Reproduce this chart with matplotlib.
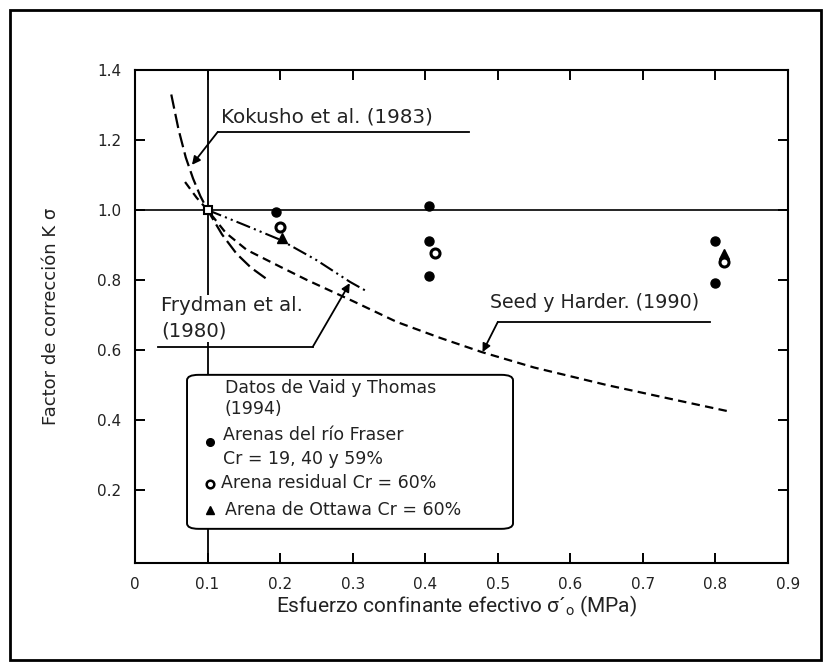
import matplotlib
matplotlib.use("Agg")
import matplotlib.pyplot as plt
from matplotlib.patches import FancyBboxPatch, Rectangle
import numpy as np

# ---------------- data ----------------
kokusho_x = [0.05, 0.06, 0.07, 0.08, 0.09, 0.10, 0.12, 0.14, 0.16, 0.18]
kokusho_y = [1.33, 1.23, 1.15, 1.09, 1.04, 1.00, 0.93, 0.875, 0.835, 0.805]

seed_x = [0.069, 0.085, 0.10, 0.125, 0.154, 0.20, 0.237, 0.30, 0.361, 0.42, 0.478, 0.55, 0.65, 0.75, 0.822]
seed_y = [1.08, 1.035, 1.00, 0.935, 0.886, 0.838, 0.80, 0.74, 0.68, 0.635, 0.594, 0.55, 0.50, 0.455, 0.423]

frydman_x = [0.10, 0.15, 0.20, 0.25, 0.296, 0.32]
frydman_y = [1.00, 0.958, 0.915, 0.857, 0.795, 0.767]

fraser_x = [0.195, 0.405, 0.405, 0.405, 0.80, 0.80]
fraser_y = [0.995, 1.01, 0.91, 0.812, 0.91, 0.79]

residual_x = [0.20, 0.413, 0.812]
residual_y = [0.95, 0.877, 0.85]

ottawa_x = [0.203, 0.812]
ottawa_y = [0.92, 0.875]

ref_x = [0.10]
ref_y = [1.00]

xticks = [0, 0.1, 0.2, 0.3, 0.4, 0.5, 0.6, 0.7, 0.8, 0.9]
xtick_labels = ["0", "0.1", "0.2", "0.3", "0.4", "0.5", "0.6", "0.7", "0.8", "0.9"]
yticks = [0.2, 0.4, 0.6, 0.8, 1.0, 1.2, 1.4]
ytick_labels = ["0.2", "0.4", "0.6", "0.8", "1.0", "1.2", "1.4"]

# ---------------- figure ----------------
plt.rcParams['font.family'] = ['DejaVu Sans']
fig = plt.figure(figsize=(8.31, 6.70), dpi=100)
ax = fig.add_axes([135/831, 1-563/670, 653/831, 493/670])
ax.set_xlim(0, 0.9)
ax.set_ylim(-0.0086, 1.4)

for s in ax.spines.values():
    s.set_linewidth(1.5)

ax.set_xticks(xticks)
ax.set_xticklabels(xtick_labels, fontsize=11, color='#222222')
ax.set_yticks(yticks)
ax.set_yticklabels(ytick_labels, fontsize=11, color='#222222')
ax.tick_params(direction='in', length=7, width=1.4, top=True, right=True, pad=10)

# reference lines
ax.axvline(0.1, color='k', lw=1.3, zorder=1)
ax.axhline(1.0, color='k', lw=1.2, zorder=1)

# curves
ax.plot(kokusho_x, kokusho_y, color='k', lw=1.6, dashes=(6.5, 2.4), zorder=2)
ax.plot(seed_x, seed_y, color='k', lw=1.6, dashes=(3.8, 2.4), zorder=2)
ax.plot(frydman_x, frydman_y, color='k', lw=1.5, dashes=(7, 2, 1, 2, 1, 2), zorder=2)

# data points
ax.plot(fraser_x, fraser_y, 'o', color='k', ms=6.5, zorder=4)
ax.plot(residual_x, residual_y, 'o', mfc='white', mec='k', mew=2.2, ms=6.5, zorder=4)
ax.plot(ottawa_x, ottawa_y, '^', color='k', ms=6.5, zorder=3)
ax.plot(ref_x, ref_y, 's', mfc='white', mec='k', mew=1.5, ms=6, zorder=4)

# annotations with leader lines
arrow = dict(arrowstyle='-|>', color='k', lw=1.3, mutation_scale=12, shrinkA=0, shrinkB=0)

ax.text(0.1185, 1.266, "Kokusho et al. (1983)", fontsize=14.3, va='center', ha='left', color='#222222')
ax.plot([0.114, 0.461], [1.223, 1.223], color='k', lw=1.3)
ax.annotate("", xy=(0.0785, 1.129), xytext=(0.114, 1.223), arrowprops=arrow)

ax.text(0.036, 0.690, "Frydman et al.\n(1980)", fontsize=14.2, va='center', ha='left',
        color='#222222', linespacing=1.4,
        bbox=dict(facecolor='white', edgecolor='none', pad=1), zorder=3)
ax.plot([0.032, 0.245], [0.609, 0.609], color='k', lw=1.3, zorder=3)
ax.annotate("", xy=(0.296, 0.791), xytext=(0.245, 0.609), arrowprops=arrow)

ax.text(0.489, 0.737, "Seed y Harder. (1990)", fontsize=13.7, va='center', ha='left', color='#222222')
ax.plot([0.50, 0.792], [0.68, 0.68], color='k', lw=1.3)
ax.annotate("", xy=(0.479, 0.594), xytext=(0.50, 0.68), arrowprops=arrow)

# legend box (custom)
box = FancyBboxPatch((0.0717, 0.089), 0.521-0.0717, 0.529-0.089,
                     boxstyle="round,pad=0,rounding_size=0.016",
                     facecolor='white', edgecolor='k', lw=1.4, zorder=5,
                     mutation_aspect=350/725.6*2.0)
ax.add_patch(box)
lt = dict(fontsize=12.5, va='center', ha='left', color='#222222', zorder=6)
ax.text(0.124, 0.491, "Datos de Vaid y Thomas", **lt)
ax.text(0.124, 0.432, "(1994)", **lt)
ax.text(0.121, 0.357, "Arenas del río Fraser", **lt)
ax.text(0.121, 0.289, "Cr = 19, 40 y 59%", **lt)
ax.text(0.1185, 0.221, "Arena residual Cr = 60%", **lt)
ax.text(0.124, 0.143, "Arena de Ottawa Cr = 60%", **lt)
ax.plot([0.103], [0.337], 'o', color='k', ms=5.5, zorder=6)
ax.plot([0.104], [0.217], 'o', mfc='white', mec='k', mew=1.8, ms=5.5, zorder=6)
ax.plot([0.104], [0.143], '^', color='k', ms=5.5, zorder=6)

# axis labels
ax.set_ylabel("Factor de corrección K σ", fontsize=13, color='#222222')
ax.yaxis.set_label_coords(-0.115, 0.5)
ax.set_xlabel("Esfuerzo confinante efectivo σ´$_{\\mathregular{o}}$ (MPa)", fontsize=15,
              family='Roboto', color='#222222')
ax.xaxis.set_label_coords(0.493, -0.062)

# outer frame
fig.patches.append(Rectangle((10/831, 10/670), 811/831, 650/670, transform=fig.transFigure,
                             fill=False, edgecolor='k', lw=2))

fig.savefig("out.png", dpi=100)
